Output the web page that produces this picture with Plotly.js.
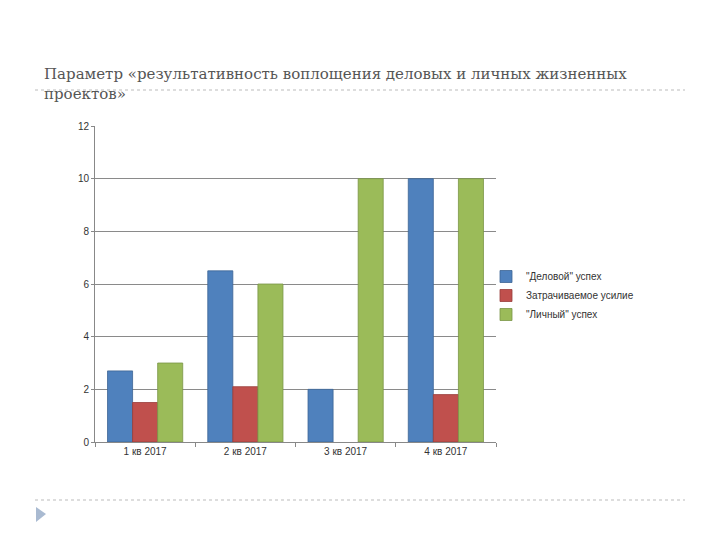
<!DOCTYPE html>
<html>
<head>
<meta charset="utf-8">
<script src="https://cdn.plot.ly/plotly-3.0.1.min.js"></script>
<style>
  html, body { margin: 0; padding: 0; background: #fff; }
  #chart { width: 720px; height: 540px; }
</style>
</head>
<body>
<div id="chart"></div>
<script>
const categories = ["1 кв 2017", "2 кв 2017", "3 кв 2017", "4 кв 2017"];
const seriesNames = ["\"Деловой\" успех", "Затрачиваемое усилие", "\"Личный\" успех"];
const businessSuccess = [2.7, 6.5, 2.0, 10];
const effort = [1.5, 2.1, null, 1.8];
const personalSuccess = [3.0, 6.0, 10, 10];
const yTicks = [0, 2, 4, 6, 8, 10, 12];

const colors = ["#4f81bd", "#c0504d", "#9bbb59"];
const lineColors = ["#3c6494", "#983c3a", "#7a9546"];
const values = [businessSuccess, effort, personalSuccess];

const traces = values.map((v, i) => ({
  type: "bar",
  x: categories,
  y: v,
  name: seriesNames[i],
  marker: { color: colors[i], line: { color: lineColors[i], width: 0.8 } },
  hoverinfo: "x+y+name"
}));

// paper-coordinate helpers (plot area: x 95..496, y 126..442 px)
const L = 95, R = 496, T = 126, B = 442;
const px = x => (x - L) / (R - L);
const py = y => (B - y) / (B - T);

const layout = {
  width: 720, height: 540,
  margin: { l: L, r: 720 - R, t: T, b: 540 - B },
  paper_bgcolor: "#fff", plot_bgcolor: "#fff",
  font: { family: "Liberation Sans, Arial, sans-serif", size: 10, color: "#333" },
  showlegend: true,
  barmode: "group",
  bargap: 0.25,
  bargroupgap: 0,
  title: {
    text: "Параметр «результативность воплощения деловых и личных жизненных<br>проектов»",
    font: { family: "DejaVu Serif, Liberation Serif, serif", size: 15, color: "#555" },
    xref: "container", yref: "container",
    x: 44 / 720, xanchor: "left",
    y: 1 - 79 / 540, yanchor: "top"
  },
  xaxis: {
    type: "category",
    showline: true, linecolor: "#888", linewidth: 1,
    ticks: "outside", tickson: "boundaries", ticklen: 4, tickcolor: "#888",
    showgrid: false, zeroline: false,
    tickfont: { size: 10, color: "#333" }
  },
  yaxis: {
    range: [0, 12],
    tickvals: yTicks,
    showline: true, linecolor: "#888", linewidth: 1,
    ticks: "outside", ticklen: 3, tickcolor: "#888",
    showgrid: true, gridcolor: "#8a8a8a", gridwidth: 1,
    zeroline: false,
    tickfont: { size: 10, color: "#333" }
  },
  legend: {
    x: px(486), xanchor: "left",
    y: py(262), yanchor: "top",
    font: { size: 10, color: "#333" },
    itemwidth: 30,
    tracegroupgap: 0,
    bgcolor: "rgba(0,0,0,0)"
  },
  shapes: [
    { type: "line", xref: "paper", yref: "paper", x0: px(35), x1: px(685), y0: py(90), y1: py(90),
      line: { color: "#bbbbbb", width: 1, dash: "dot" } },
    { type: "line", xref: "paper", yref: "paper", x0: px(35), x1: px(685), y0: py(500), y1: py(500),
      line: { color: "#bbbbbb", width: 1, dash: "dot" } },
    { type: "path", xref: "paper", yref: "paper",
      path: `M ${px(36)} ${py(507)} L ${px(46)} ${py(514)} L ${px(36)} ${py(522)} Z`,
      fillcolor: "#a9bad1", line: { width: 0 } }
  ]
};

Plotly.newPlot("chart", traces, layout, { displayModeBar: false, staticPlot: true });
</script>
</body>
</html>
